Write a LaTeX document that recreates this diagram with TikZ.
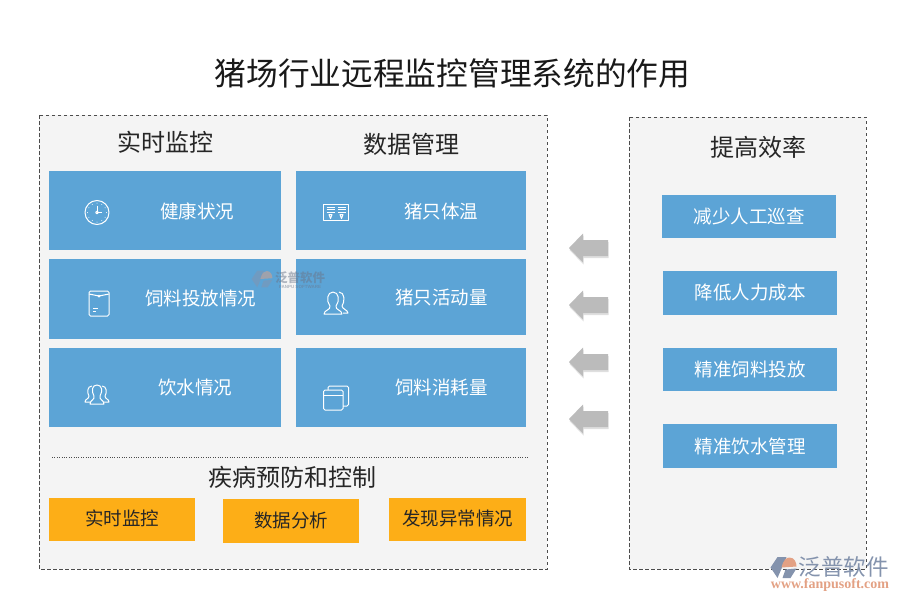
\documentclass[tikz,border=0pt]{standalone}
\usepackage{fontspec}
\setmainfont{Noto Sans CJK SC}
\newfontfamily\webfont{Liberation Serif}
\newfontfamily\latinfont{Liberation Sans}
\usetikzlibrary{shadows}
\definecolor{panelgray}{HTML}{F4F4F4}
\definecolor{boxblue}{HTML}{5CA4D6}
\definecolor{boxorange}{HTML}{FDAE17}
\definecolor{arrowgray}{HTML}{BBBBBB}
\definecolor{logoblue}{HTML}{8493AD}
\definecolor{logoorange}{HTML}{E3A184}
\tikzset{
  panel/.style={draw=black!70,dashed,fill=panelgray,line width=0.7pt,dash pattern=on 3.5pt off 2.5pt},
  bluebox/.style={fill=boxblue,inner sep=0pt},
  orangebox/.style={fill=boxorange,inner sep=0pt},
  headtext/.style={font=\fontsize{24}{24}\selectfont,black!85},
  boxtext/.style={font=\fontsize{18.5}{20}\selectfont,white},
  darktext/.style={font=\fontsize{18.5}{20}\selectfont,black!85},
  icon/.style={draw=white,line width=1pt,line join=round},
  pics/backarrow/.style={code={
    \fill[arrowgray,drop shadow={shadow xshift=0.5pt,shadow yshift=-2pt,opacity=0.25}]
      (-19.5,0)--(-5.5,-14.5)--(-5.5,-8)--(19.5,-8)--(19.5,8)--(-5.5,8)--(-5.5,14.5)--cycle;
  }},
  pics/clockicon/.style={code={
    \draw[icon] (0,0) circle (12);
    \draw[icon] (0,-7)--(0,0)--(5,0);
    \draw[icon] (0,0) circle (1.3);
    \foreach \a in {0,30,...,330} \fill[white] (\a:9.5) circle (0.5);
  }},
  pics/bagicon/.style={code={
    \draw[icon,rounded corners=1.5] (-10,-13) rectangle (10,12);
    \draw[icon] (-10,-10)--(0,-8)--(10,-10);
    \fill[white] (0,-8) circle (1.5);
    \draw[icon] (-6,4)--(-1,4) (-6,7)--(-3,7);
  }},
  pics/screenicon/.style={code={
    \draw[icon] (-12.5,-8.5) rectangle (12.5,8);
    \foreach \x in {-9.5,2} \foreach \y in {-5.5,-3,-0.5} \draw[icon,line width=0.8pt] (\x,\y)--++(8,0);
    \draw[icon] (-7,2)--(-4,2)--(-5.5,6)--cycle (4,2)--(7,2)--(5.5,6)--cycle;
  }},
  pics/twopersonicon/.style={code={
    \draw[icon] (-12,11) .. controls (-12,7) and (-5,7) .. (-6,3)
      .. controls (-10,-2) and (-9,-11) .. (-3,-11) .. controls (3,-11) and (4,-2) .. (0,3)
      .. controls (-1,7) and (6,7) .. (6,11) -- cycle;
    \draw[icon] (3,-11) .. controls (9,-11) and (9,-1) .. (6,3)
      .. controls (6,6) and (12,7) .. (12,10) -- (7,10);
  }},
  pics/threepersonicon/.style={code={
    \draw[icon] (-7,10) .. controls (-7,6) and (-2,6) .. (-3,2)
      .. controls (-6,-3) and (-5,-9) .. (0,-9) .. controls (5,-9) and (6,-3) .. (3,2)
      .. controls (2,6) and (7,6) .. (7,10) -- cycle;
    \draw[icon] (-5,-8) .. controls (-10,-8) and (-10,-1) .. (-8,2)
      .. controls (-8,5) and (-12,5) .. (-12,8) -- (-7,8);
    \draw[icon] (5,-8) .. controls (10,-8) and (10,-1) .. (8,2)
      .. controls (8,5) and (12,5) .. (12,8) -- (7,8);
  }},
  pics/windowicon/.style={code={
    \draw[icon,rounded corners=1.5] (-12.5,-8) rectangle (7,12);
    \draw[icon] (-12.5,-3)--(7,-3);
    \draw[icon,rounded corners=1.5] (-8,-8)--(-8,-12)--(12.5,-12)--(12.5,8)--(7,8);
  }},
  pics/fplogo/.style={code={
    \fill[logoblue] (-13,0)--(-6,-10.5)--(3,-10.5)--(-6,10.5)--cycle;
    \fill[logoblue] (-1,10.5)--(7,10.5)--(13,1)--(2,2)--cycle;
    \fill[logoorange] (-2,0) .. controls (0,-8) and (3,-10) .. (6,-10)
      .. controls (11,-10) and (13,-5) .. (13,-1)--cycle;
  }},
}
\begin{document}
\begin{tikzpicture}[x=1pt,y=-1pt]
  \useasboundingbox (0,0) rectangle (900,600);
  \node[font=\fontsize{31.7}{32}\selectfont,black!90] (title) at (452.5,73) {猪场行业远程监控管理系统的作用};
  % two dashed panels
  \draw[panel] (39,115) rectangle (547,569);
  \draw[panel] (629,117) rectangle (866,569);
  \node[headtext] (headwatch) at (165,142) {实时监控};
  \node[headtext] (headdata) at (411,144) {数据管理};
  \node[headtext] (headeff) at (758,147) {提高效率};
  % blue boxes, left column
  \node[bluebox,minimum width=232pt,minimum height=79pt] (health) at (165,210.5) {};
  \node[bluebox,minimum width=232pt,minimum height=80pt] (feed) at (165,299) {};
  \node[bluebox,minimum width=232pt,minimum height=79pt] (water) at (165,387.5) {};
  % blue boxes, right column
  \node[bluebox,minimum width=230pt,minimum height=79pt] (temp) at (411,210.5) {};
  \node[bluebox,minimum width=230pt,minimum height=76pt] (move) at (411,297) {};
  \node[bluebox,minimum width=230pt,minimum height=79pt] (use) at (411,387.5) {};
  \node[boxtext] (healthtext) at (197,211) {健康状况};
  \node[boxtext] (feedtext) at (200.5,298) {饲料投放情况};
  \node[boxtext] (watertext) at (195,388) {饮水情况};
  \node[boxtext] (temptext) at (441,211) {猪只体温};
  \node[boxtext] (movetext) at (441.5,297) {猪只活动量};
  \node[boxtext] (usetext) at (441.5,387) {饲料消耗量};
  \pic at (97,212.5) {clockicon};
  \pic at (99,304) {bagicon};
  \pic at (97,394) {threepersonicon};
  \pic at (336,212.5) {screenicon};
  \pic at (336,303) {twopersonicon};
  \pic at (336,398) {windowicon};
  % boxes of the right panel
  \node[bluebox,minimum width=174pt,minimum height=43pt] (patrol) at (749,216.5) {\textcolor{white}{\fontsize{18.5}{20}\selectfont 减少人工巡查}};
  \node[bluebox,minimum width=174pt,minimum height=44pt] (cost) at (750,293) {\textcolor{white}{\fontsize{18.5}{20}\selectfont 降低人力成本}};
  \node[bluebox,minimum width=174pt,minimum height=43pt] (exactfeed) at (750,369.5) {\textcolor{white}{\fontsize{18.5}{20}\selectfont 精准饲料投放}};
  \node[bluebox,minimum width=174pt,minimum height=44pt] (exactwater) at (750,446) {\textcolor{white}{\fontsize{18.5}{20}\selectfont 精准饮水管理}};
  \foreach \y in {248,305,362,419}
    \pic at (588.5,\y) {backarrow};
  % lower row
  \coordinate (dotleft) at (52,457);
  \coordinate (dotright) at (528,457);
  \draw[dotted,black!70] (dotleft)--(dotright);
  \node[headtext] (headill) at (292,477) {疾病预防和控制};
  \node[orangebox,minimum width=146pt,minimum height=43pt] (realtime) at (122,519.5) {};
  \node[orangebox,minimum width=136pt,minimum height=44pt] (analysis) at (291,521) {};
  \node[orangebox,minimum width=137pt,minimum height=43pt] (abnormal) at (457.5,519.5) {};
  \node[darktext] (realtimetext) at (122,518) {实时监控};
  \node[darktext] (analysistext) at (291,520) {数据分析};
  \node[darktext] (abnormaltext) at (457.5,518) {发现异常情况};
  % watermarks
  \begin{scope}[opacity=0.5]
    \pic[scale=0.8] at (262,279) {fplogo};
    \node[logoblue!80!black,font=\fontsize{12.5}{13}\selectfont\bfseries] (markcn) at (300,278) {泛普软件};
    \node[logoblue!80!black,font=\latinfont\fontsize{4.5}{5}\selectfont\bfseries] (markla) at (300,286.5) {FANPU SOFTWARE};
  \end{scope}
  \pic at (783.5,567.5) {fplogo};
  \node[logoblue,font=\fontsize{22.5}{23}\selectfont] (logocn) at (843.5,566.5) {泛普软件};
  \node[logoorange,font=\webfont\fontsize{14}{15}\selectfont\bfseries] (logoweb) at (830,585) {www.fanpusoft.com};
\end{tikzpicture}
\end{document}
